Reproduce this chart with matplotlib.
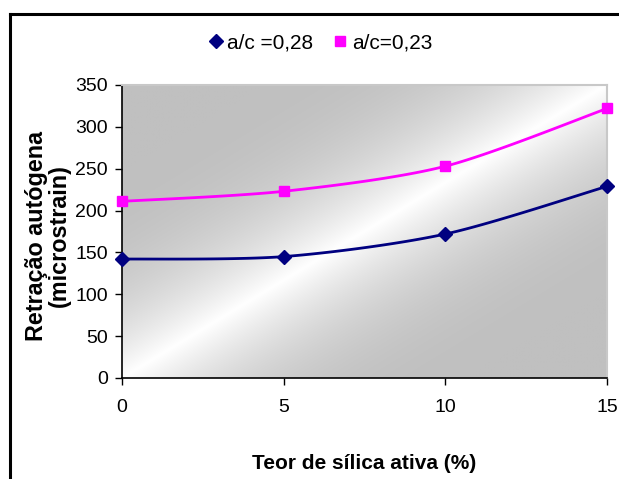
import numpy as np
import matplotlib
matplotlib.use("Agg")
import matplotlib.pyplot as plt
from matplotlib.lines import Line2D

plt.rcParams['font.family'] = ['Liberation Sans', 'DejaVu Sans']

teor = [0, 5, 10, 15]
ret_028 = [142, 145, 172, 229]
ret_023 = [211, 223, 253, 322]
labels = ['a/c =0,28', 'a/c=0,23']
xticks = [0, 5, 10, 15]
yticks = [0, 50, 100, 150, 200, 250, 300, 350]


def smooth(x, y, n=40, k=0.14):
    # Excel-style smoothed line (cubic Bezier, Catmull-Rom control points)
    x = np.asarray(x, float); y = np.asarray(y, float)
    P = np.column_stack([x, y])
    out = []
    for i in range(len(P) - 1):
        p0 = P[i - 1] if i > 0 else P[i]
        p1 = P[i]; p2 = P[i + 1]
        p3 = P[i + 2] if i + 2 < len(P) else P[i + 1]
        c1 = p1 + (p2 - p0) * k
        c2 = p2 - (p3 - p1) * k
        t = np.linspace(0, 1, n)[:, None]
        seg = ((1 - t) ** 3) * p1 + 3 * ((1 - t) ** 2) * t * c1 + 3 * (1 - t) * t ** 2 * c2 + t ** 3 * p2
        out.append(seg if i == 0 else seg[1:])
    s = np.vstack(out)
    return s[:, 0], s[:, 1]


fig = plt.figure(figsize=(6.19, 4.79), dpi=100)
ax = fig.add_axes([0.197, 0.2109, 0.784, 0.6117])

# gradient background (gray - white - gray along diagonal)
u = np.linspace(0, 1, 400)[None, :]
v = np.linspace(0, 1, 300)[:, None]
d = np.abs(v - u)
w = np.clip(1 - d / 0.7, 0, 1) ** 2.4
gray = 192 / 255
c = gray + (1 - gray) * w
img = np.dstack([c, c, c])
ax.imshow(img, extent=[0, 15, 0, 350], origin='lower', aspect='auto', zorder=0,
          interpolation='bilinear')

xs, ys = smooth(teor, ret_028)
ax.plot(xs, ys, color='#000080', lw=2.0, zorder=3, clip_on=False)
ax.plot(teor, ret_028, ls='none', marker='D', ms=7.5, color='#000080', zorder=4, clip_on=False)
xs, ys = smooth(teor, ret_023)
ax.plot(xs, ys, color='#FF00FF', lw=2.0, zorder=3, clip_on=False)
ax.plot(teor, ret_023, ls='none', marker='s', ms=7, color='#FF00FF', zorder=4, clip_on=False)

ax.set_xlim(0, 15)
ax.set_ylim(0, 350)
ax.set_xticks(xticks)
ax.set_yticks(yticks)
ax.tick_params(direction='out', length=5, width=1, labelsize=14, color='black')
ax.tick_params(axis='x', pad=10)
ax.tick_params(axis='y', pad=5)
for s in ['left', 'bottom']:
    ax.spines[s].set_color('black'); ax.spines[s].set_linewidth(1.2)
for s in ['top', 'right']:
    ax.spines[s].set_color('#C8C8C8'); ax.spines[s].set_linewidth(1.5)

ax.set_xlabel('Teor de sílica ativa (%)', fontsize=15, fontweight='bold')
ax.xaxis.set_label_coords(0.5, -0.258)
ax.set_ylabel('Retração autógena\n(microstrain)', fontsize=16.8, fontweight='bold',
              linespacing=1.0)
ax.yaxis.set_label_coords(-0.105, 0.485)

handles = [Line2D([], [], ls='none', marker='D', ms=7.5, color='#000080'),
           Line2D([], [], ls='none', marker='s', ms=7, color='#FF00FF')]
fig.legend(handles, labels, loc='center', bbox_to_anchor=(0.515, 0.91), ncol=2, frameon=False,
           fontsize=15, handletextpad=0.05, columnspacing=0.8, handlelength=1.0)

# outer frame (cut off at right/bottom edges)
x0 = 9.5 / 619; y0 = 1 - 13.5 / 479
fig.add_artist(Line2D([x0, x0], [y0, -0.1], transform=fig.transFigure, color='black', lw=2.2))
fig.add_artist(Line2D([x0, 1.1], [y0, y0], transform=fig.transFigure, color='black', lw=2.2))

fig.savefig('out.png', dpi=100)
